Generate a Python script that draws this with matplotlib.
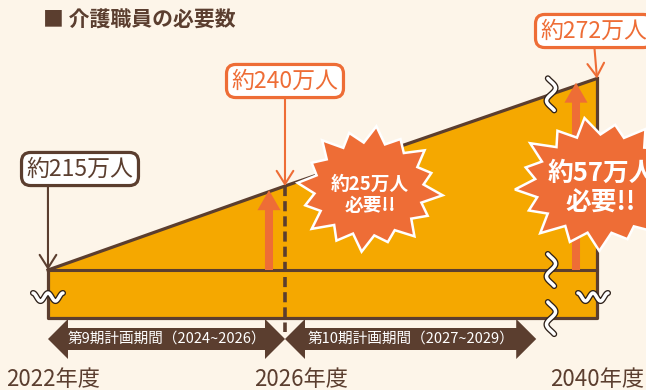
import numpy as np
import matplotlib
matplotlib.use("Agg")
import matplotlib.pyplot as plt
from matplotlib.patches import FancyArrowPatch, Polygon
from matplotlib.transforms import offset_copy

plt.rcParams["font.family"] = ["Noto Sans CJK JP", "DejaVu Sans"]

# required care workers (万人)
years = [2022, 2026, 2040]
workers = [215, 240, 272]
year_labels = ["2022年度", "2026年度", "2040年度"]
worker_labels = ["約215万人", "約240万人", "約272万人"]
needed_years = [2026, 2040]
needed = [25, 57]
needed_labels = ["約25万人\n必要!!", "約57万人\n必要!!"]
period_labels = ["第9期計画期間（2024~2026）", "第10期計画期間（2027~2029）"]
period_start = [2022, 2026]
period_end = [2026, 2030.24]

BG = "#FDF5E9"
GOLD = "#F5A800"
BROWN = "#5B3E2F"
ORANGE = "#EE6D36"

# broken x axis: years after the break are squeezed together
X_BREAK = 2030.49
X_SQUEEZE = 0.0816
FLOOR = 200.7  # bottom of the truncated band


def xc(year):
    return year if year <= X_BREAK else X_BREAK + (year - X_BREAK) * X_SQUEEZE


fig = plt.figure(figsize=(6.46, 3.90), dpi=100, facecolor=BG)
ax = fig.add_axes([0, 0, 1, 1])
ax.set_xlim(2021.19, 2032.093)
ax.set_ylim(179.29, 295.36)
ax.axis("off")
deco = fig.add_axes([0, 0, 1, 1])
deco.set_xlim(0, 646)
deco.set_ylim(390, 0)
deco.axis("off")


def to_px(x, y):
    return deco.transData.inverted().transform(ax.transData.transform((x, y)))


xs = [xc(y) for y in years]
x0, x1 = xs[0], xs[-1]

# area + outline
ax.fill(xs + [x1, x0], workers + [FLOOR, FLOOR], color=GOLD, lw=0, zorder=1)
ax.plot(xs, workers, color=BROWN, lw=2.3, zorder=3)
ax.plot([x0, x0, x1, x1], [workers[0], FLOOR, FLOOR, workers[-1]], color=BROWN, lw=2.3, zorder=3)
ax.plot([x0, x1], [workers[0], workers[0]], color=BROWN, lw=2.2, zorder=3)
ax.plot([xs[1], xs[1]], [workers[1], 196.5], color=BROWN, lw=2.6, dashes=(2.8, 1.4), zorder=2)

# orange "needed" arrows
for yr, n, dx in zip(needed_years, needed, [-16, -21]):
    arr = FancyArrowPatch((xc(yr), workers[0]), (xc(yr), workers[0] + n),
                          arrowstyle="simple,head_length=14.4,head_width=16.6,tail_width=5.8",
                          mutation_scale=1, color=ORANGE, lw=0, shrinkA=0, shrinkB=3,
                          transform=offset_copy(ax.transData, fig, x=dx, y=0, units="dots"),
                          zorder=4)
    ax.add_patch(arr)

# value labels
box_pos = [(80, 169), (285, 81), (594, 31)]
box_col = [BROWN, ORANGE, ORANGE]
box_rel = [(0.2, 0), (0.5, 0), (0.5, 0)]
for x, v, lbl, pos, c, rp in zip(xs, workers, worker_labels, box_pos, box_col, box_rel):
    ax.annotate(lbl, xy=(x, v), xytext=pos, textcoords=deco.transData,
                ha="center", va="center", fontsize=16.5, color=c, zorder=8,
                bbox=dict(boxstyle="round,pad=0.22,rounding_size=0.4", fc="white", ec=c, lw=2.3),
                arrowprops=dict(arrowstyle="->,head_length=0.95,head_width=0.6", color=c, lw=1.5,
                                shrinkA=0, shrinkB=0, relpos=rp, mutation_scale=10))


# starbursts
def burst(cx, cy, rx, ry, n, label, size, tdy):
    k = np.arange(2 * n)
    ang = k * np.pi / n + 0.1
    outer = np.array([1.0, 0.9, 0.97, 0.88, 1.0, 0.93])
    r = np.where(k % 2 == 0, outer[(k // 2) % len(outer)], 0.74)
    pts = np.column_stack([cx + rx * r * np.cos(ang), cy + ry * r * np.sin(ang)])
    deco.add_patch(Polygon(pts, closed=True, fc=ORANGE, ec="white", lw=1.8, zorder=5))
    deco.text(cx + 1, cy + tdy, label, ha="center", va="center", color="white",
              fontsize=size, weight="bold", linespacing=1.15, zorder=6)


burst(369, 189, 74, 63, 16, needed_labels[0], 13.5, 6)
burst(600, 184, 88, 67, 17, needed_labels[1], 18.5, 4)


# break marks
def squiggle(cx, cy, vertical):
    t = np.linspace(0, 1, 60)
    if vertical:
        x = cx - 4.5 * np.sin(t * 2.5 * np.pi - 1.25 * np.pi)
        y = cy - 16 + 32 * t
    else:
        x = cx - 15 + 30 * t
        y = cy - 4 * np.cos(t * 4 * np.pi)
    deco.plot(x, y, color="#2E211A", lw=4.4, solid_capstyle="round", zorder=7)
    deco.plot(x, y, color="white", lw=2.5, solid_capstyle="round", zorder=7)


bx = xc(X_BREAK)
for v in [np.interp(bx, xs, workers), workers[0], FLOOR]:
    px, py = to_px(bx, v)
    squiggle(px, py, True)
for x in [x0, x1]:
    px, py = to_px(x, (workers[0] + FLOOR) / 2)
    squiggle(px + (0 if x == x0 else -4), py + 3, False)

# plan periods
for lbl, s, e in zip(period_labels, period_start, period_end):
    a = to_px(xc(s), 0)[0]
    b = to_px(xc(e), 0)[0]
    yc, hl, bh, hh = 339, 20, 11, 20
    pts = [(a, yc), (a + hl, yc - hh), (a + hl, yc - bh), (b - hl, yc - bh), (b - hl, yc - hh),
           (b, yc), (b - hl, yc + hh), (b - hl, yc + bh), (a + hl, yc + bh), (a + hl, yc + hh)]
    deco.add_patch(Polygon(pts, closed=True, fc=BROWN, lw=0, zorder=5))
    deco.text((a + b) / 2, yc, lbl, ha="center", va="center", color="white", fontsize=10.5, zorder=6)

# year labels
for x, lbl, dx in zip(xs, year_labels, [5, 16, 0]):
    px = to_px(x, 0)[0]
    deco.text(px + dx, 380, lbl, ha="center", va="center", color=BROWN, fontsize=16)

deco.text(43, 20, "■ 介護職員の必要数", ha="left", va="center", color=BROWN, fontsize=15, weight="bold")

fig.savefig("out.png", dpi=100, facecolor=BG)
